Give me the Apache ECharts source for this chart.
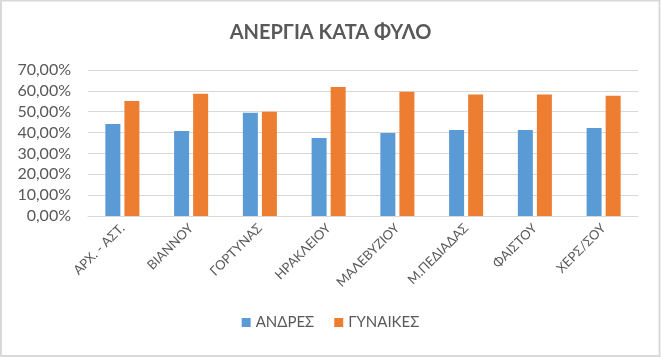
<!DOCTYPE html>
<html><head><meta charset="utf-8">
<script src="https://cdn.jsdelivr.net/npm/echarts@6/dist/echarts.min.js"></script>
<style>html,body{margin:0;padding:0;background:#fff}#c{width:661px;height:357px}</style>
</head><body><div id="c"></div>
<script>
const categories = ['ΑΡΧ. - ΑΣΤ.', 'ΒΙΑΝΝΟΥ', 'ΓΟΡΤΥΝΑΣ', 'ΗΡΑΚΛΕΙΟΥ', 'ΜΑΛΕΒΥΖΙΟΥ', 'Μ.ΠΕΔΙΑΔΑΣ', 'ΦΑΙΣΤΟΥ', 'ΧΕΡΣ/ΣΟΥ'];
const men = [44.1, 40.8, 49.5, 37.4, 39.8, 41.2, 41.2, 42.2];
const women = [55.1, 58.6, 50.0, 61.8, 59.6, 58.2, 58.2, 57.7];
const seriesNames = ['ΑΝΔΡΕΣ', 'ΓΥΝΑΙΚΕΣ'];
const titleText = 'ΑΝΕΡΓΙΑ ΚΑΤΑ ΦΥΛΟ';

const font = 'Lato, "Open Sans", sans-serif';
const chart = echarts.init(document.getElementById('c'));
chart.setOption({
  animation: false,
  graphic: [{type: 'rect', shape: {x: 1, y: 0.5, width: 658.5, height: 355.5}, style: {fill: 'none', stroke: '#d9d9d9', lineWidth: 2}}],
  title: {text: titleText, left: 'center', top: 18, textStyle: {fontFamily: font, fontSize: 20, fontWeight: 'bold', color: '#595959'}},
  legend: {data: seriesNames, bottom: 22, left: 'center', itemWidth: 9, itemHeight: 9, itemGap: 20, icon: 'rect',
    textStyle: {fontFamily: font, fontSize: 15, color: '#595959'}},
  grid: {left: 88, right: 23, top: 70, bottom: 141},
  xAxis: {type: 'category', data: categories,
    axisLine: {lineStyle: {color: '#d9d9d9'}}, axisTick: {show: false},
    axisLabel: {rotate: 45, interval: 0, fontFamily: font, fontSize: 13, color: '#595959', margin: 10}},
  yAxis: {type: 'value', min: 0, max: 70, interval: 10,
    axisLabel: {formatter: v => v.toFixed(2).replace('.', ',') + '%', fontFamily: font, fontSize: 16, color: '#595959', margin: 17},
    splitLine: {lineStyle: {color: '#d9d9d9'}}, axisLine: {show: false}, axisTick: {show: false}},
  series: [
    {name: seriesNames[0], type: 'bar', data: men, barWidth: 15, barGap: '27%', itemStyle: {color: '#5B9BD5'}},
    {name: seriesNames[1], type: 'bar', data: women, barWidth: 15, itemStyle: {color: '#ED7D31'}}
  ]
});
</script></body></html>
